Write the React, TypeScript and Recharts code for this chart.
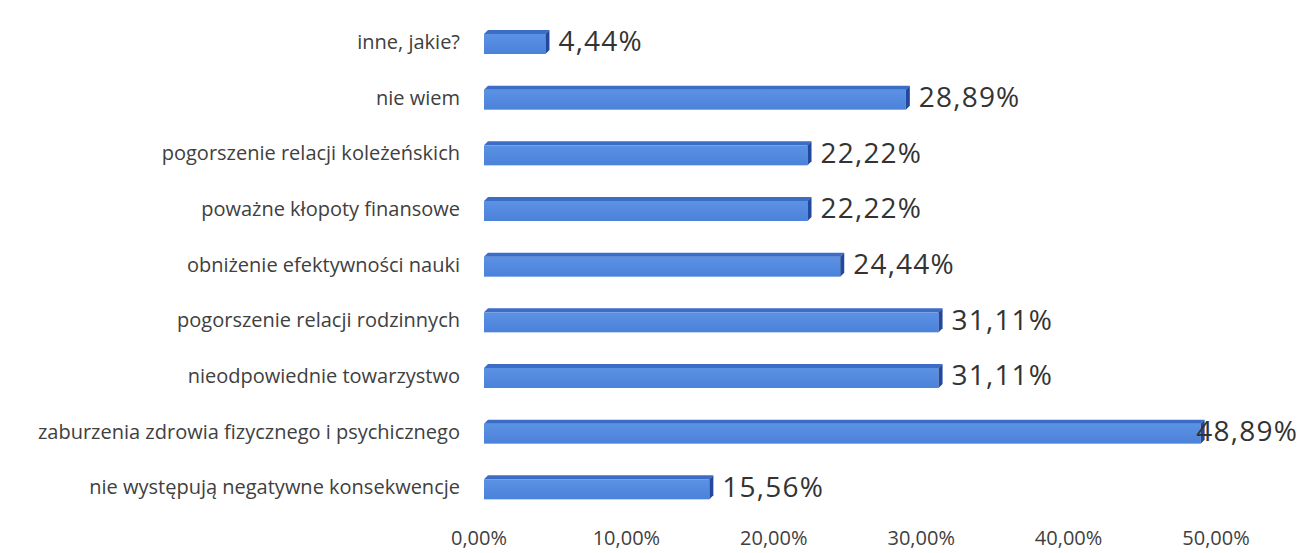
import React from 'react';
import { BarChart, Bar, XAxis, YAxis, LabelList } from 'recharts';

const categories = [
  'inne, jakie?',
  'nie wiem',
  'pogorszenie relacji koleżeńskich',
  'poważne kłopoty finansowe',
  'obniżenie efektywności nauki',
  'pogorszenie relacji rodzinnych',
  'nieodpowiednie towarzystwo',
  'zaburzenia zdrowia fizycznego i psychicznego',
  'nie występują negatywne konsekwencje',
];
const values = [4.44, 28.89, 22.22, 22.22, 24.44, 31.11, 31.11, 48.89, 15.56];
const xTicks = [0, 10, 20, 30, 40, 50];

const data = categories.map((name, i) => ({ name, value: values[i] }));

const fmt = (v: number) => v.toFixed(2).replace('.', ',') + '%';
const FONT = '"Open Sans", sans-serif';
const DEPTH = 4;
const CHART_W = 1302;
const LABEL_W = 102;

const Bar3D = (props: any) => {
  const { x, y, width, height } = props;
  const d = DEPTH;
  const h = height - d;
  const w = Math.max(width - d, 0);
  const fy = y + d;
  return (
    <g>
      <defs>
        <linearGradient id="frontGrad" x1="0" y1="0" x2="0" y2="1">
          <stop offset="0%" stopColor="#5b92e4" />
          <stop offset="100%" stopColor="#4b82da" />
        </linearGradient>
      </defs>
      <rect x={x} y={fy} width={w} height={h} fill="url(#frontGrad)" />
      <polygon
        points={`${x},${fy} ${x + d},${y} ${x + w + d},${y} ${x + w},${fy}`}
        fill="#3b6cc6"
      />
      <polygon
        points={`${x + w},${fy} ${x + w + d},${y} ${x + w + d},${y + h} ${x + w},${fy + h}`}
        fill="#22499e"
      />
    </g>
  );
};

const ValueLabel = (props: any) => {
  const { x, y, width, height, value } = props;
  let tx = x + width + 9;
  let anchor: 'start' | 'end' = 'start';
  if (tx + LABEL_W > CHART_W - 4) {
    tx = CHART_W - 4;
    anchor = 'end';
  }
  return (
    <text
      x={tx}
      y={y + height / 2 + 2}
      fill="#333"
      fontSize={28}
      letterSpacing={1.2}
      fontFamily={FONT}
      textAnchor={anchor}
      dominantBaseline="middle"
    >
      {fmt(value)}
    </text>
  );
};

export default function App() {
  return (
    <div style={{ position: 'absolute', left: 0, top: 0, width: CHART_W, height: 553, background: '#fff' }}>
      <BarChart
        width={CHART_W}
        height={553}
        data={data}
        layout="vertical"
        margin={{ top: 14, right: 81, bottom: 8, left: 0 }}
        barCategoryGap={0}
      >
        <XAxis
          type="number"
          domain={[0, 50]}
          ticks={xTicks}
          tickFormatter={(v: number) => fmt(v)}
          axisLine={false}
          tickLine={false}
          tickSize={0}
          tickMargin={16}
          height={30}
          tick={{ fill: '#404040', fontSize: 20, fontFamily: FONT, dx: -5 }}
          interval={0}
        />
        <YAxis
          type="category"
          dataKey="name"
          width={484}
          axisLine={false}
          tickLine={false}
          tickSize={0}
          tickMargin={24}
          tick={{ fill: '#404040', fontSize: 20, fontFamily: FONT }}
          interval={0}
        />
        <Bar dataKey="value" barSize={24} shape={<Bar3D />} isAnimationActive={false}>
          <LabelList dataKey="value" content={<ValueLabel />} />
        </Bar>
      </BarChart>
    </div>
  );
}
